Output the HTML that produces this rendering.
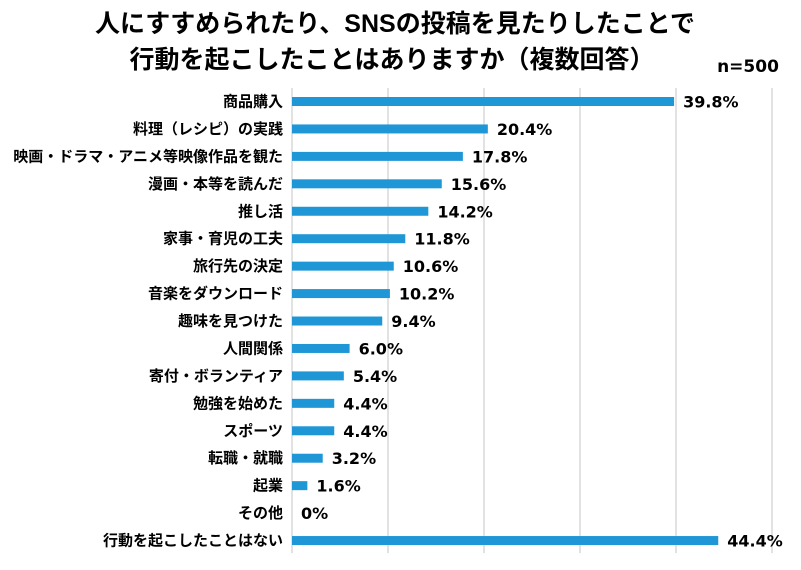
<!DOCTYPE html>
<html><head><meta charset="utf-8"><style>
body{margin:0;background:#fff;}
svg{display:block;font-family:"Liberation Sans","Noto Sans CJK JP",sans-serif;}
.v{font-family:"DejaVu Sans","Noto Sans CJK JP",sans-serif;}
</style></head><body>
<svg width="801" height="570" xmlns="http://www.w3.org/2000/svg">
<rect width="801" height="570" fill="#fff"/>
<text x="395" y="32" font-size="25" font-weight="bold" text-anchor="middle" fill="#000">人にすすめられたり、SNSの投稿を見たりしたことで</text>
<text x="392" y="68" font-size="25" font-weight="bold" text-anchor="middle" fill="#000">行動を起こしたことはありますか（複数回答）</text>
<text class="v" x="748" y="72" font-size="17" font-weight="bold" text-anchor="middle" fill="#000">n=500</text>
<g stroke="#d9d9d9" stroke-width="1.5">
<line x1="292" y1="88" x2="292" y2="553"/>
<line x1="388" y1="88" x2="388" y2="553"/>
<line x1="484" y1="88" x2="484" y2="553"/>
<line x1="580" y1="88" x2="580" y2="553"/>
<line x1="676" y1="88" x2="676" y2="553"/>
<line x1="772" y1="88" x2="772" y2="553"/>
</g>
<g fill="#1F97D6">
<rect x="292" y="97" width="382.08" height="9"/>
<rect x="292" y="124.44" width="195.84" height="9"/>
<rect x="292" y="151.88" width="170.88" height="9"/>
<rect x="292" y="179.32" width="149.76" height="9"/>
<rect x="292" y="206.76" width="136.32" height="9"/>
<rect x="292" y="234.2" width="113.28" height="9"/>
<rect x="292" y="261.64" width="101.76" height="9"/>
<rect x="292" y="289.08" width="97.92" height="9"/>
<rect x="292" y="316.52" width="90.24" height="9"/>
<rect x="292" y="343.96" width="57.6" height="9"/>
<rect x="292" y="371.4" width="51.84" height="9"/>
<rect x="292" y="398.84" width="42.24" height="9"/>
<rect x="292" y="426.28" width="42.24" height="9"/>
<rect x="292" y="453.72" width="30.72" height="9"/>
<rect x="292" y="481.16" width="15.36" height="9"/>
<rect x="292" y="536.04" width="426.24" height="9"/>
</g>
<g font-size="15" font-weight="bold" text-anchor="end" fill="#000">
<text x="283" y="106.5">商品購入</text>
<text x="283" y="133.94">料理（レシピ）の実践</text>
<text x="283" y="161.38">映画・ドラマ・アニメ等映像作品を観た</text>
<text x="283" y="188.82">漫画・本等を読んだ</text>
<text x="283" y="216.26">推し活</text>
<text x="283" y="243.7">家事・育児の工夫</text>
<text x="283" y="271.14">旅行先の決定</text>
<text x="283" y="298.58">音楽をダウンロード</text>
<text x="283" y="326.02">趣味を見つけた</text>
<text x="283" y="353.46">人間関係</text>
<text x="283" y="380.9">寄付・ボランティア</text>
<text x="283" y="408.34">勉強を始めた</text>
<text x="283" y="435.78">スポーツ</text>
<text x="283" y="463.22">転職・就職</text>
<text x="283" y="490.66">起業</text>
<text x="283" y="518.1">その他</text>
<text x="283" y="545.54">行動を起こしたことはない</text>
</g>
<g class="v" font-size="16" font-weight="bold" fill="#000">
<text x="683.08" y="107.5">39.8%</text>
<text x="496.84" y="134.94">20.4%</text>
<text x="471.88" y="162.38">17.8%</text>
<text x="450.76" y="189.82">15.6%</text>
<text x="437.32" y="217.26">14.2%</text>
<text x="414.28" y="244.7">11.8%</text>
<text x="402.76" y="272.14">10.6%</text>
<text x="398.92" y="299.58">10.2%</text>
<text x="391.24" y="327.02">9.4%</text>
<text x="358.6" y="354.46">6.0%</text>
<text x="352.84" y="381.9">5.4%</text>
<text x="343.24" y="409.34">4.4%</text>
<text x="343.24" y="436.78">4.4%</text>
<text x="331.72" y="464.22">3.2%</text>
<text x="316.36" y="491.66">1.6%</text>
<text x="301" y="519.1">0%</text>
<text x="727.24" y="546.54">44.4%</text>
</g>
</svg>
</body></html>
